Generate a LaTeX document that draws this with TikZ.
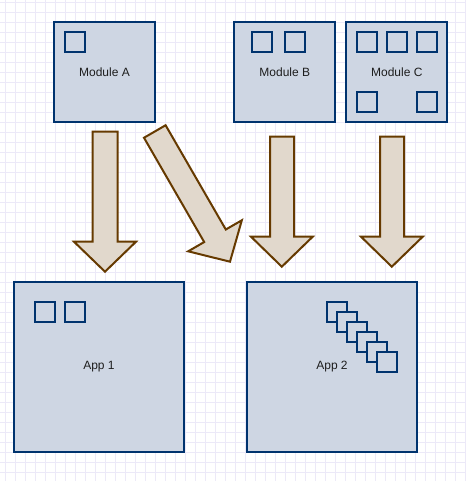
\documentclass[tikz,border=0pt]{standalone}
\usepackage{fontspec}
\setmainfont{Liberation Sans}
\definecolor{boxfill}{RGB}{206,214,227}
\definecolor{boxline}{RGB}{0,51,110}
\definecolor{arrfill}{RGB}{225,216,204}
\definecolor{arrline}{RGB}{102,58,0}
\definecolor{gridc}{RGB}{236,233,248}
\definecolor{txt}{RGB}{30,30,30}
\begin{document}
\begin{tikzpicture}[x=1pt,y=-1pt,
  box/.style={draw=boxline,fill=boxfill,line width=2pt,inner sep=0pt,outer sep=0pt,
    text=txt,font=\fontsize{12}{14}\selectfont},
  mod/.style={box,minimum width=101pt,minimum height=100pt},
  app/.style={box,minimum width=170pt,minimum height=170pt},
  sq/.style={draw=boxline,fill=boxfill,line width=2pt,minimum size=20pt,inner sep=0pt,outer sep=0pt},
  bigarrow/.style={draw=arrline,fill=arrfill,line width=2pt,line join=miter}]
\useasboundingbox (0,0) rectangle (466,481);
\fill[white] (0,0) rectangle (466,481);
\foreach \i in {0,...,46} {\draw[gridc,line width=1pt] (5+10*\i,0) -- (5+10*\i,481);}
\foreach \j in {0,...,48} {\draw[gridc,line width=1pt] (0,2.5+10*\j) -- (466,2.5+10*\j);}

% modules
\node[mod] (modA) at (104.5,72) {Module A};
\node[mod] (modB) at (284.8,72) {Module B};
\node[mod] (modC) at (396.8,72) {Module C};
\node[sq] (a1) at (75,42) {};
\node[sq] (b1) at (262,42) {};
\node[sq] (b2) at (294.7,42) {};
\node[sq] (c1) at (367,42) {};
\node[sq] (c2) at (397,42) {};
\node[sq] (c3) at (426.8,42) {};
\node[sq] (c4) at (367,102) {};
\node[sq] (c5) at (426.8,102) {};

% apps
\node[app,minimum width=170.6pt] (app1) at (99,367) {App 1};
\node[app] (app2) at (332,367) {App 2};
\node[sq] (p1) at (45,312) {};
\node[sq] (p2) at (74.8,312) {};
\foreach \k in {0,...,5} {\node[sq] (s\k) at (336.8+10.1*\k,312+10*\k) {};}

% arrows
\draw[bigarrow] (92.5,131.7) -- (117.5,131.7) -- (117.5,241.7) -- (136,241.7) -- (105,271.7)
  -- (74,241.7) -- (92.5,241.7) -- cycle;
\draw[bigarrow] (270,136.7) -- (294,136.7) -- (294,236.7) -- (312.7,236.7) -- (281.8,266.7)
  -- (251,236.7) -- (270,236.7) -- cycle;
\draw[bigarrow] (380,136.7) -- (404,136.7) -- (404,236.7) -- (422.7,236.7) -- (391.8,266.7)
  -- (361,236.7) -- (380,236.7) -- cycle;
\draw[bigarrow] (165.6,125.25) -- (225.8,229.5) -- (241.8,220.3) -- (230,261.7)
  -- (188.2,251.3) -- (204.2,242.05) -- (144,137.75) -- cycle;
\end{tikzpicture}
\end{document}
